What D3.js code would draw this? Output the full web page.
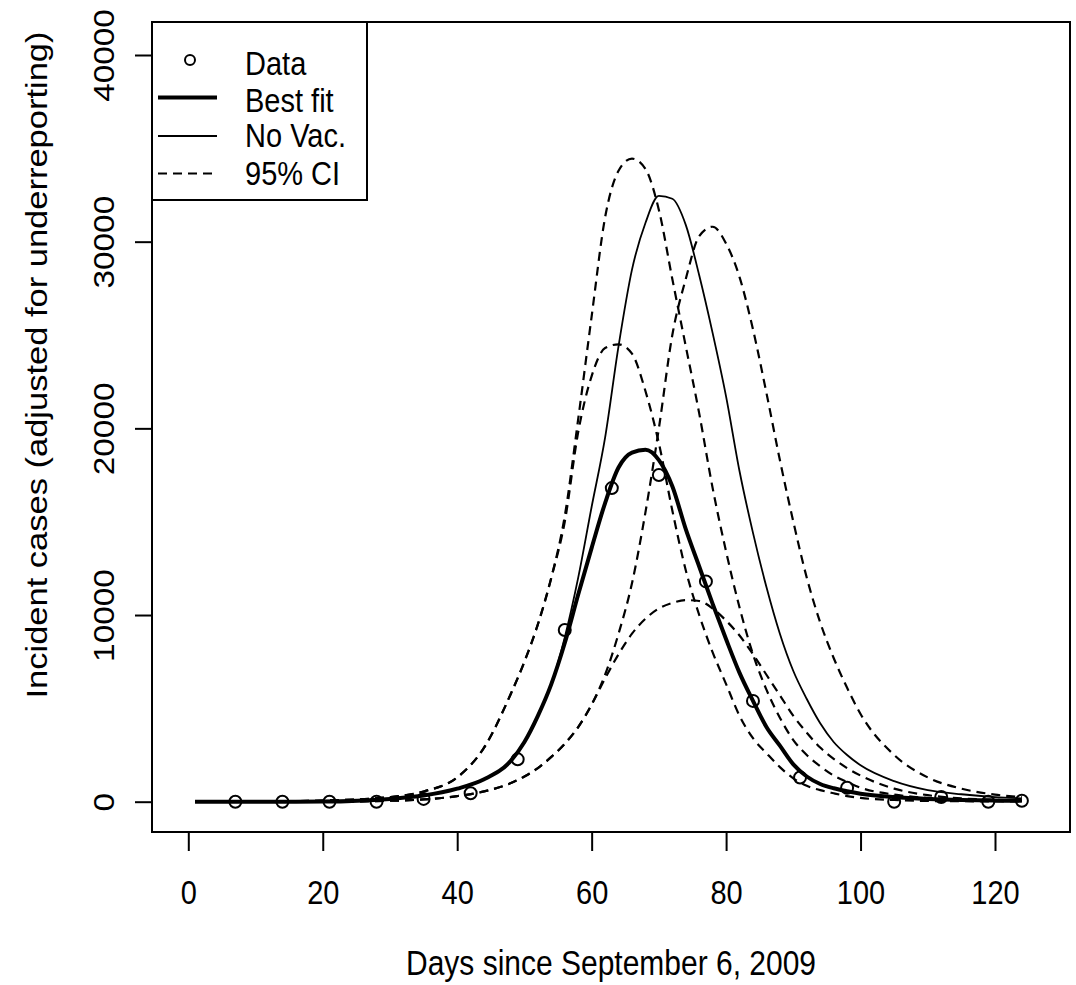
<!DOCTYPE html>
<html><head><meta charset="utf-8">
<script src="https://cdn.jsdelivr.net/npm/d3@7"></script>
<style>
body{margin:0;background:#fff}
svg{display:block}
text{font-family:"Liberation Sans",Arial,sans-serif;fill:#000}
</style>
</head><body>
<svg id="chart" width="1076" height="985"></svg>
<script>
// ---- data ----
const dataDays  = [7,14,21,28,35,42,49,56,63,70,77,84,91,98,105,112,119,124];
const dataCases = [0,0,0,0,150,450,2270,9200,16800,17500,11800,5400,1300,750,0,250,0,50];

const curveDays = [1,10,20,30,35,40,44,48,50,52,54,56,58,60,62,64,66,68,70,72,74,76,78,80,82,84,86,88,90,92,94,96,98,100,105,110,115,120,124];
const bestFit   = [0,0,10,150,330,700,1200,2200, 3200,4600,6300,8500,11100,13600,16000,17900,18700,18850,18300,16900,14600,12600,10600,8700,6900,5400,4000,3000,2000,1350,950,720,560,430, 250,150,90,60,50];
const noVac     = [0,0,10,150,330,700,1200,2200, 3200,4600,6300,8800,12000,15800,19500,24400,28500,31000,32450,32300,30900,28200,25100,21700,17700,14400,11500,9000,7000,5500,4200,3200,2500,1950, 1100,620,400,250,180];
const ciNoVacHi = [0,10,60,250,550,1300,2900,5800, 7500,9500,12000,15300,20500,26000,31300,33800,34450,33900,31700,28000,24400,20800,16800,13400,10400,7900,6000,4500,3300,2500,1900,1400,1050,750, 380,200,110,65,40];
const ciFitHi   = [0,10,60,250,550,1300,2900,5800, 7500,9500,12000,15000,19800,22800,24300,24500,24000,22000,19200,15600,12400,10000,8000,6300,4600,3400,2600,1850,1250,850,620,450,300,200, 90,40,25,15,10];
const ciNoVacLo = [0,0,5,50,120,300,550,1000, 1350,1800,2400,3100,4000,5200,6800,9000,11700,15500,20000,25000,28000,30300,30800,29900,28100,25300,21900,18300,15000,12000,9600,7700,6100,4700, 2500,1300,700,380,250];
const ciFitLo   = [0,0,5,50,120,300,550,1000, 1350,1800,2400,3100,4000,5200,6600,7900,9000,9800,10350,10650,10800,10750,10350,9700,8900,7900,6800,5700,4600,3700,2900,2300,1800,1400, 700,350,180,100,60];

const xTicks = [0,20,40,60,80,100,120];
const yTicks = [0,10000,20000,30000,40000];
const legendLabels = ["Data","Best fit","No Vac.","95% CI"];
const xTitle = "Days since September 6, 2009";
const yTitle = "Incident cases (adjusted for underreporting)";

// ---- layout ----
const SY = 1.15; // vertical stretch of glyphs in the reference
const box = {left:152, right:1070, top:22, bottom:832};
const svg = d3.select("#chart");
const x = d3.scaleLinear().domain([0,120]).range([188.3,995]);
const y = d3.scaleLinear().domain([0,40000]).range([801.7,55]);

// box
svg.append("rect").attr("x",box.left).attr("y",box.top)
  .attr("width",box.right-box.left).attr("height",box.bottom-box.top)
  .attr("fill","none").attr("stroke","#000").attr("stroke-width",2);

// x axis
const xAxis = d3.axisBottom(x).tickValues(xTicks).tickSize(19).tickFormat(d3.format("d"));
const gx = svg.append("g").attr("transform",`translate(0,${box.bottom})`).call(xAxis);
gx.select(".domain").remove();
gx.selectAll(".tick line").attr("stroke","#000").attr("stroke-width",2);
gx.selectAll(".tick text").attr("font-size",29).attr("font-family","Liberation Sans, Arial, sans-serif").attr("fill","#000")
  .attr("y",0).attr("dy",0).attr("transform",`translate(0,${904-box.bottom}) scale(1,${SY})`);

// y axis
const yAxis = d3.axisLeft(y).tickValues(yTicks).tickSize(17).tickFormat(d3.format("d"));
const gy = svg.append("g").attr("transform",`translate(${box.left},0)`).call(yAxis);
gy.select(".domain").remove();
gy.selectAll(".tick line").attr("stroke","#000").attr("stroke-width",2);
gy.selectAll(".tick text").attr("font-size",29).attr("font-family","Liberation Sans, Arial, sans-serif").attr("fill","#000")
  .attr("text-anchor","middle").attr("x",0).attr("y",0).attr("dy",0)
  .attr("transform",`translate(${114-box.left},0) scale(1,${SY}) rotate(-90)`);

// titles
svg.append("text").attr("transform",`translate(611,975) scale(1,${SY})`).attr("text-anchor","middle").attr("font-size",30).text(xTitle);
svg.append("text").attr("transform",`translate(47,365) scale(1,${SY}) rotate(-90)`).attr("text-anchor","middle").attr("font-size",30).text(yTitle);

// curves
const line = (vals)=> d3.line().curve(d3.curveMonotoneX).x((d,i)=>x(curveDays[i])).y(d=>y(d))(vals);
const g = svg.append("g");
const dashed = [ciNoVacHi, ciFitHi, ciNoVacLo, ciFitLo];
dashed.forEach(v=>{
  g.append("path").attr("d",line(v)).attr("fill","none").attr("stroke","#000").attr("stroke-width",2.2).attr("stroke-dasharray","9,6");
});
g.append("path").attr("d",line(noVac)).attr("fill","none").attr("stroke","#000").attr("stroke-width",1.8);
g.append("path").attr("d",line(bestFit)).attr("fill","none").attr("stroke","#000").attr("stroke-width",4);

// data points
g.selectAll("circle.pt").data(dataDays).join("circle").attr("class","pt")
  .attr("cx",d=>x(d)).attr("cy",(d,i)=>y(dataCases[i])).attr("r",6)
  .attr("fill","none").attr("stroke","#000").attr("stroke-width",2);

// legend
const lg = svg.append("g");
lg.append("rect").attr("x",box.left).attr("y",box.top).attr("width",215).attr("height",178)
  .attr("fill","#fff").attr("stroke","#000").attr("stroke-width",2);
const baseY = [75,112,147,185];
lg.append("circle").attr("cx",190).attr("cy",60).attr("r",5).attr("fill","none").attr("stroke","#000").attr("stroke-width",2);
lg.append("line").attr("x1",158).attr("x2",217).attr("y1",97.5).attr("y2",97.5).attr("stroke","#000").attr("stroke-width",4);
lg.append("line").attr("x1",158).attr("x2",217).attr("y1",136).attr("y2",136).attr("stroke","#000").attr("stroke-width",1.8);
lg.append("line").attr("x1",158).attr("x2",217).attr("y1",173.5).attr("y2",173.5).attr("stroke","#000").attr("stroke-width",2.2).attr("stroke-dasharray","9,6");
legendLabels.forEach((t,i)=>{
  lg.append("text").attr("transform",`translate(245,${baseY[i]}) scale(1,${SY})`).attr("font-size",29).text(t);
});
</script>
</body></html>
